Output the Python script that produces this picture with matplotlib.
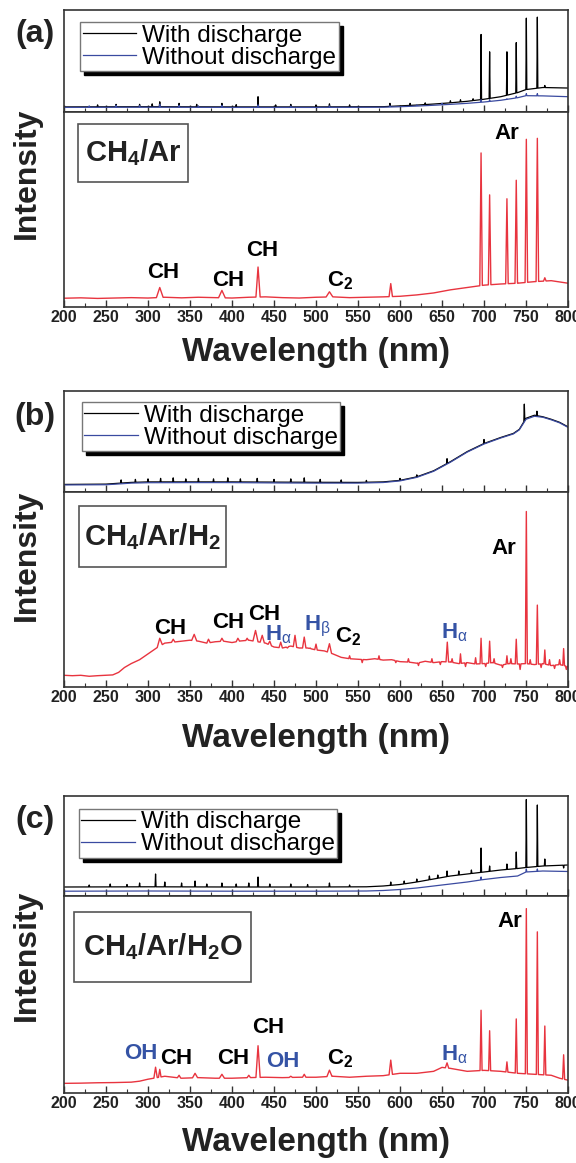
import numpy as np
import matplotlib
matplotlib.use("Agg")
import matplotlib.pyplot as plt
from matplotlib.patches import Rectangle
from matplotlib.ticker import MultipleLocator

plt.rcParams['font.family'] = ['Liberation Sans', 'DejaVu Sans']
plt.rcParams['mathtext.fontset'] = 'custom'
plt.rcParams['mathtext.rm'] = 'Liberation Sans:bold'
plt.rcParams['mathtext.bf'] = 'Liberation Sans:bold'
plt.rcParams['mathtext.it'] = 'Liberation Sans'
plt.rcParams['mathtext.sf'] = 'Liberation Sans:bold'

# ---------------- data (a.u., wavelength in nm) ----------------
xticks = [200, 250, 300, 350, 400, 450, 500, 550, 600, 650, 700, 750, 800]
legend_labels = ['With discharge', 'Without discharge']
gas_labels = ['CH$_4$/Ar', 'CH$_4$/Ar/H$_2$', 'CH$_4$/Ar/H$_2$O']

# Panel (a) top
A_top_bwl = [200, 300, 400, 500, 580, 600, 620, 640, 660, 680, 700, 720, 740, 750, 770, 800]
A_blk_bval = [0.05, 0.052, 0.05, 0.05, 0.052, 0.06, 0.068, 0.078, 0.09, 0.105, 0.125, 0.15, 0.19, 0.22, 0.24, 0.235]
A_blu_bval = [0.045, 0.047, 0.045, 0.045, 0.047, 0.052, 0.058, 0.066, 0.075, 0.085, 0.098, 0.115, 0.14, 0.16, 0.158, 0.15]
A_blk_pwl = [240, 262, 290, 305, 314, 337, 358, 388, 405, 431, 452, 470, 500, 516, 540, 588, 612, 630, 660, 672, 687,
             696.5, 706.7, 727.3, 738.4, 750.4, 763.5, 772.4]
A_blk_ph = [0.07, 0.075, 0.075, 0.08, 0.10, 0.085, 0.075, 0.085, 0.072, 0.15, 0.07, 0.075, 0.07, 0.08, 0.07, 0.085,
            0.085, 0.09, 0.11, 0.12, 0.13, 0.76, 0.59, 0.59, 0.68, 0.92, 0.93, 0.26]
A_blu_pwl = [230, 262, 290, 314, 337, 360, 388, 431, 470, 516, 588, 620, 650, 696.5, 706.7, 727.3, 738.4, 750.4, 763.5]
A_blu_ph = [0.06, 0.065, 0.062, 0.075, 0.065, 0.06, 0.065, 0.07, 0.058, 0.06, 0.062, 0.07, 0.085, 0.12, 0.12, 0.13,
            0.155, 0.18, 0.18]

# Panel (a) bottom (red)
A_red_bwl = [200, 220, 240, 260, 280, 300, 320, 340, 360, 380, 400, 420, 440, 460, 480, 500, 520, 540, 560, 580,
             600, 620, 640, 660, 680, 700, 720, 740, 760, 780, 800]
A_red_bval = [0.045, 0.047, 0.044, 0.046, 0.048, 0.046, 0.05, 0.047, 0.05, 0.048, 0.046, 0.05, 0.052, 0.048, 0.046,
              0.05, 0.052, 0.048, 0.05, 0.052, 0.055, 0.062, 0.072, 0.088, 0.10, 0.112, 0.118, 0.122, 0.13, 0.135, 0.122]
A_red_pwl = [314, 388, 431, 516, 589, 696.5, 706.7, 727.3, 738.4, 750.4, 763.5, 772.4]
A_red_ph = [0.10, 0.085, 0.205, 0.078, 0.12, 0.79, 0.575, 0.555, 0.65, 0.86, 0.865, 0.15]
A_red_pw = [4, 4, 2.5, 4, 2, 1.5, 1.5, 1.5, 1.5, 1.5, 1.5, 1.5]

# Panel (b) top
B_top_bwl = [200, 250, 262, 280, 300, 350, 400, 450, 500, 550, 580, 600, 620, 640, 660, 680, 700, 720, 735, 742,
             750, 760, 770, 780, 790, 800]
B_blk_bval = [0.075, 0.078, 0.085, 0.095, 0.10, 0.10, 0.10, 0.098, 0.096, 0.095, 0.10, 0.115, 0.15, 0.21, 0.30,
              0.40, 0.48, 0.54, 0.58, 0.62, 0.73, 0.76, 0.745, 0.72, 0.69, 0.645]
B_blu_bval = [0.07, 0.072, 0.078, 0.088, 0.092, 0.093, 0.093, 0.09, 0.088, 0.088, 0.094, 0.11, 0.145, 0.205, 0.295,
              0.395, 0.475, 0.535, 0.575, 0.615, 0.72, 0.75, 0.74, 0.715, 0.685, 0.64]
B_blk_pwl = [268, 285, 300, 315, 330, 345, 360, 378, 395, 410, 430, 450, 470, 486, 505, 530, 560, 600, 620, 656,
             700, 748, 763]
B_blk_ph = [0.12, 0.125, 0.13, 0.135, 0.14, 0.13, 0.135, 0.13, 0.14, 0.13, 0.135, 0.125, 0.13, 0.14, 0.125, 0.12,
            0.115, 0.135, 0.17, 0.33, 0.52, 0.87, 0.8]

# Panel (b) bottom (red)
B_red_bwl = [200, 210, 220, 230, 240, 250, 258, 265, 272, 280, 290, 300, 310, 320, 330, 340, 350, 360, 370, 380, 390,
             400, 410, 420, 440, 450, 460, 470, 480, 490, 500, 510, 520, 530, 540, 550, 560, 570, 580, 590, 600, 610,
             620, 630, 640, 650, 660, 670, 680, 690, 700, 710, 720, 730, 740, 750, 760, 770, 780, 790, 800]
B_red_bval = [0.06, 0.058, 0.06, 0.055, 0.058, 0.06, 0.062, 0.075, 0.10, 0.12, 0.14, 0.17, 0.2, 0.225, 0.23, 0.235,
              0.24, 0.235, 0.225, 0.232, 0.235, 0.228, 0.236, 0.24, 0.225, 0.205, 0.20, 0.21, 0.2, 0.2, 0.19, 0.185,
              0.17, 0.152, 0.145, 0.142, 0.14, 0.145, 0.138, 0.14, 0.13, 0.128, 0.122, 0.132, 0.125, 0.13, 0.128,
              0.12, 0.125, 0.118, 0.12, 0.125, 0.112, 0.12, 0.118, 0.12, 0.115, 0.12, 0.11, 0.115, 0.105]
B_red_pwl = [314, 330, 355, 372, 388, 407, 418, 428, 436, 445, 458, 466, 475, 481, 486, 493, 500, 516, 540, 555, 575,
             595, 610, 622, 638, 648, 656.3, 662, 672, 678, 690, 696.5, 702, 706.7, 712, 722, 727.3, 732, 738.4, 743,
             750.4, 755, 763.5, 768, 772.4, 778, 784, 790, 794.8, 798]
B_red_ph = [0.25, 0.245, 0.27, 0.245, 0.25, 0.25, 0.25, 0.29, 0.265, 0.235, 0.23, 0.2, 0.265, 0.2, 0.256, 0.2, 0.22,
            0.222, 0.16, 0.125, 0.16, 0.125, 0.145, 0.11, 0.145, 0.115, 0.23, 0.145, 0.17, 0.105, 0.15, 0.25, 0.105,
            0.235, 0.145, 0.1, 0.16, 0.145, 0.245, 0.09, 0.90, 0.14, 0.42, 0.1, 0.19, 0.14, 0.095, 0.14, 0.197, 0.09]
B_red_pw = [3, 2, 3, 2, 2, 2, 1.5, 3, 2.5, 2, 2, 1.5, 2, 1, 2, 1, 1.5, 2.5, 1, 1, 1, 1, 1, 1, 1, 1, 1.5, 1, 1, 1, 1,
            1.2, 1, 1.2, 1, 1, 1, 1, 1.2, 1, 1.2, 1, 1.2, 1, 1, 1, 1, 1, 1, 1]

# Panel (c) top
C_top_bwl = [200, 300, 400, 500, 560, 580, 600, 620, 640, 660, 680, 700, 720, 740, 750, 770, 800]
C_blk_bval = [0.09, 0.092, 0.09, 0.09, 0.092, 0.1, 0.115, 0.14, 0.17, 0.2, 0.22, 0.24, 0.26, 0.275, 0.285, 0.3, 0.31]
C_blu_bval = [0.048, 0.05, 0.048, 0.048, 0.05, 0.055, 0.065, 0.08, 0.1, 0.12, 0.14, 0.165, 0.185, 0.2, 0.24, 0.25,
              0.245]
C_blk_pwl = [230, 255, 275, 290, 309, 320, 340, 356, 370, 388, 405, 420, 431, 445, 470, 490, 516, 540, 589, 605, 620,
             635, 645, 656, 670, 685, 696.5, 706.7, 727.3, 738.4, 750.4, 763.5, 772.4, 794.8]
C_blk_ph = [0.11, 0.12, 0.115, 0.13, 0.22, 0.14, 0.13, 0.15, 0.12, 0.13, 0.12, 0.13, 0.19, 0.12, 0.12, 0.115, 0.13,
            0.11, 0.14, 0.15, 0.17, 0.2, 0.21, 0.25, 0.25, 0.26, 0.48, 0.30, 0.32, 0.44, 0.965, 0.91, 0.37, 0.28]
C_blu_pwl = [696.5, 750.4, 763.5]
C_blu_ph = [0.19, 0.27, 0.27]

# Panel (c) bottom (red)
C_red_bwl = [200, 220, 240, 260, 280, 290, 300, 320, 340, 360, 380, 400, 420, 440, 460, 480, 500, 520, 540, 560, 580,
             600, 620, 640, 650, 660, 680, 700, 720, 740, 760, 780, 790, 800]
C_red_bval = [0.049, 0.05, 0.052, 0.053, 0.055, 0.06, 0.07, 0.085, 0.075, 0.078, 0.075, 0.075, 0.078, 0.08, 0.078,
              0.08, 0.08, 0.085, 0.08, 0.085, 0.088, 0.1, 0.1, 0.11, 0.13, 0.125, 0.11, 0.115, 0.11, 0.1, 0.095,
              0.09, 0.075, 0.065]
C_red_pwl = [309, 314, 337, 356, 388, 420, 431, 470, 486, 516, 589, 656, 696.5, 706.7, 727.3, 738.4, 750.4, 763.5,
             772.4, 794.8]
C_red_ph = [0.131, 0.12, 0.09, 0.1, 0.095, 0.09, 0.24, 0.085, 0.095, 0.116, 0.167, 0.153, 0.42, 0.316, 0.158, 0.376,
            0.936, 0.818, 0.34, 0.194]
C_red_pw = [2, 1.5, 2, 3, 3, 2, 2.5, 2, 2, 3, 2, 2, 1.2, 1.2, 1.2, 1.2, 1.2, 1.2, 1.2, 1.2]

# ---------------- helpers ----------------
def spectrum(bwl, bval, pwl, ph, pw=None, default_w=0.6):
    bwl = np.asarray(bwl, float)
    bval = np.asarray(bval, float)
    if pw is None:
        pw = [default_w] * len(pwl)
    keep = np.ones(len(bwl), bool)
    for c, w in zip(pwl, pw):
        keep &= ~((bwl > c - w) & (bwl < c + w))
    xs = list(bwl[keep])
    ys = list(bval[keep])
    for c, h, w in zip(pwl, ph, pw):
        xs += [c - w, c, c + w]
        ys += [np.interp(c - w, bwl, bval), h, np.interp(c + w, bwl, bval)]
    order = np.argsort(xs, kind='stable')
    return np.asarray(xs)[order], np.asarray(ys)[order]


W, H = 576, 1163
L, R = 64, 568
fig = plt.figure(figsize=(W / 100, H / 100), dpi=100)

RED = '#e8343f'
BLUE = '#3a4aa0'
LBLUE = '#3553a5'
SPINE = '#333333'


def make_axes(top, bottom):
    return fig.add_axes([L / W, 1 - bottom / H, (R - L) / W, (bottom - top) / H])


def style(ax, labels):
    ax.set_xlim(200, 800)
    ax.set_ylim(0, 1)
    ax.xaxis.set_major_locator(MultipleLocator(50))
    ax.xaxis.set_minor_locator(MultipleLocator(25))
    ax.tick_params(axis='x', which='major', direction='in', length=5, width=1, top=False, bottom=True,
                   labelsize=11.5, pad=2, labelbottom=labels, colors=SPINE)
    ax.tick_params(axis='x', which='minor', direction='in', length=3, width=0.8, top=False, bottom=True,
                   colors=SPINE)
    ax.tick_params(axis='y', which='both', left=False, right=False, labelleft=False)
    for s in ax.spines.values():
        s.set_linewidth(1.2)
        s.set_color(SPINE)
    if labels:
        ax.set_xticks(xticks)
        ax.set_xticklabels([str(t) for t in xticks], fontweight='bold', color='#222222')


panels = [
    dict(top=(10, 112), bot=(112, 307),
         blk=(A_top_bwl, A_blk_bval, A_blk_pwl, A_blk_ph), blu=(A_top_bwl, A_blu_bval, A_blu_pwl, A_blu_ph),
         red=(A_red_bwl, A_red_bval, A_red_pwl, A_red_ph, A_red_pw),
         leg=(0.032, 0.88), box=(0.028, 0.64, 0.218, 0.30), gas=0, tag='(a)', tagy=34, inty=173, wly=352,
         ann=[('CH', 318, 0.177, 'k'), ('CH', 395, 0.134, 'k'), ('CH', 436, 0.288, 'k'),
              ('C$_2$', 529, 0.134, 'k'), ('Ar', 727, 0.889, 'k')]),
    dict(top=(391, 492), bot=(492, 687),
         blk=(B_top_bwl, B_blk_bval, B_blk_pwl, B_blk_ph), blu=(B_top_bwl, B_blu_bval, [], []),
         red=(B_red_bwl, B_red_bval, B_red_pwl, B_red_ph, B_red_pw),
         leg=(0.035, 0.89), box=(0.029, 0.615, 0.293, 0.315), gas=1, tag='(b)', tagy=417, inty=555, wly=738,
         ann=[('CH', 327, 0.30, 'k'), ('CH', 395, 0.333, 'k'), ('CH', 438, 0.372, 'k'),
              ('H$_\\alpha$', 455, 0.27, LBLUE), ('H$_\\beta$', 501, 0.311, LBLUE),
              ('C$_2$', 538, 0.256, 'k'), ('H$_\\alpha$', 665, 0.277, LBLUE), ('Ar', 724, 0.709, 'k')]),
    dict(top=(796, 896), bot=(896, 1093),
         blk=(C_top_bwl, C_blk_bval, C_blk_pwl, C_blk_ph), blu=(C_top_bwl, C_blu_bval, C_blu_pwl, C_blu_ph),
         red=(C_red_bwl, C_red_bval, C_red_pwl, C_red_ph, C_red_pw),
         leg=(0.029, 0.87), box=(0.02, 0.564, 0.352, 0.354), gas=2, tag='(c)', tagy=820, inty=955, wly=1143,
         ann=[('OH', 291, 0.203, LBLUE), ('CH', 334, 0.176, 'k'), ('CH', 402, 0.176, 'k'),
              ('CH', 443, 0.33, 'k'), ('OH', 461, 0.158, LBLUE), ('C$_2$', 529, 0.176, 'k'),
              ('H$_\\alpha$', 665, 0.194, LBLUE), ('Ar', 731, 0.873, 'k')]),
]

for p in panels:
    axt = make_axes(*p['top'])
    axb = make_axes(*p['bot'])
    style(axt, False)
    style(axb, True)

    xk, yk = spectrum(*p['blk'])
    xb, yb = spectrum(*p['blu'])
    axt.plot(xk, yk, color='black', lw=0.9, label=legend_labels[0])
    axt.plot(xb, yb, color=BLUE, lw=0.9, label=legend_labels[1])
    leg = axt.legend(loc='upper left', bbox_to_anchor=p['leg'], fontsize=17.5, handlelength=2.2,
                     handletextpad=0.25, labelspacing=0.0, borderpad=0.1, borderaxespad=0,
                     frameon=True, fancybox=False, framealpha=1, edgecolor='#777777',
                     shadow={'ox': 3, 'oy': -3, 'color': 'black', 'alpha': 1})
    leg.get_frame().set_linewidth(1.0)

    xr, yr = spectrum(*p['red'])
    axb.plot(xr, yr, color=RED, lw=1.0)

    bx, by, bw, bh = p['box']
    axb.add_patch(Rectangle((bx, by), bw, bh, transform=axb.transAxes, facecolor='white',
                            edgecolor='#555555', lw=1.2, zorder=3))
    axb.text(bx + bw / 2, by + bh / 2, gas_labels[p['gas']], transform=axb.transAxes, ha='center',
             va='center', fontsize=21, fontweight='bold', color='#222222', zorder=4)

    for txt, xv, yv, col in p['ann']:
        axb.text(xv, yv, txt, ha='center', va='center', fontsize=16, fontweight='bold', color=col)

    fig.text(35 / W, 1 - p['tagy'] / H, p['tag'], ha='center', va='center', fontsize=23, fontweight='bold',
             color='#222222')
    fig.text(27 / W, 1 - p['inty'] / H, 'Intensity', rotation=90, ha='center', va='center', fontsize=23,
             fontweight='bold', color='#222222')
    fig.text((L + R) / 2 / W, 1 - p['wly'] / H, 'Wavelength (nm)', ha='center', va='center', fontsize=24,
             fontweight='bold', color='#222222')

fig.savefig('out.png', dpi=100)
